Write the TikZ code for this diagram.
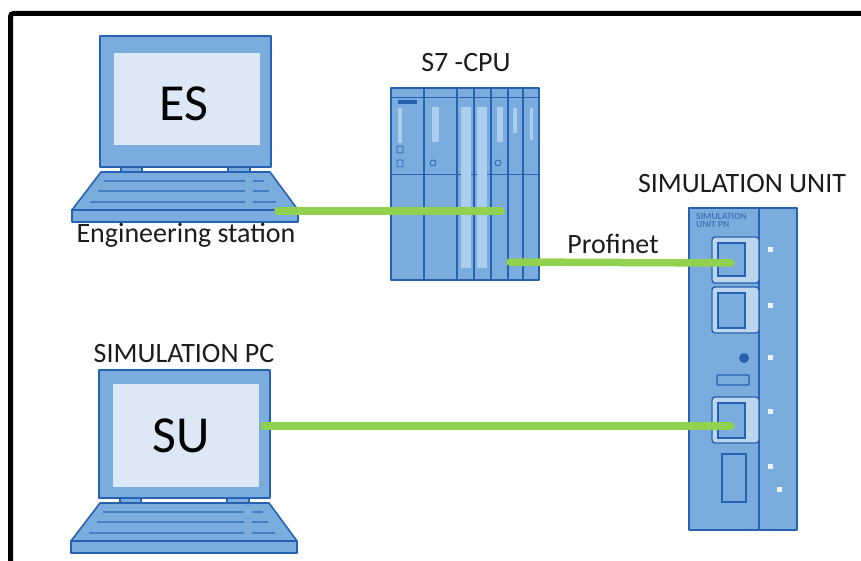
\documentclass[tikz,border=0pt]{standalone}
\usepackage{fontspec}
\setmainfont{Carlito}
\definecolor{devfill}{RGB}{122,173,222}
\definecolor{devline}{RGB}{38,98,178}
\definecolor{devlight}{RGB}{189,214,238}
\definecolor{stripfill}{RGB}{172,206,238}
\definecolor{screenfill}{RGB}{220,232,246}
\definecolor{keyline}{RGB}{70,128,196}
\definecolor{linkgreen}{RGB}{146,208,80}
\definecolor{labeltext}{RGB}{28,28,28}
\definecolor{ledwhite}{RGB}{236,243,250}
\definecolor{unitprint}{RGB}{70,118,186}
\begin{document}
\begin{tikzpicture}[x=1pt,y=-1pt,
  dev/.style={fill=devfill, draw=devline, line width=1.6pt, line join=round},
  thin/.style={draw=devline, line width=1pt},
  keys/.style={draw=keyline, line width=1.2pt},
  link/.style={draw=linkgreen, line width=7.5pt, line cap=round},
  lbl/.style={font=\fontsize{28}{30}\selectfont, text=labeltext, anchor=base, inner sep=0pt},
  big/.style={font=\fontsize{52}{56}\selectfont, text=black, anchor=base, inner sep=0pt},
  led/.style={fill=ledwhite},
  port/.style={fill=devlight, draw=devline, line width=1.4pt, rounded corners=3pt},
  pins/.style={fill=devfill, draw=devline, line width=1.4pt},
  pics/laptop/.style n args={3}{code={
    % lid with screen
    \draw[dev] (0,0) rectangle (171,#1);
    \fill[screenfill] (14,#2) rectangle (160,#1-#3);
    % hinges
    \draw[dev] (21,#1) rectangle (42,#1+5);
    \draw[dev] (128,#1) rectangle (150,#1+5);
    % keyboard deck and front edge
    \draw[dev] (1,#1+5) -- (170,#1+5) -- (198,#1+43) -- (-28,#1+43) -- cycle;
    \draw[dev] (-28,#1+43) rectangle (198,#1+55);
    % key rows
    \draw[keys] (4,#1+14) -- (145,#1+14) (153,#1+14) -- (164,#1+14);
    \draw[keys] (-2,#1+24) -- (145,#1+24) (153,#1+24) -- (169,#1+24);
    \draw[keys] (-10,#1+35) -- (145,#1+35) (153,#1+35) -- (176,#1+35);
  }}]
\useasboundingbox (0,0) rectangle (861,561);

% outer frame
\draw[line width=5pt, rounded corners=3pt] (10.5,561) -- (10.5,13.5) -- (861,13.5);

% engineering station
\pic at (100,36) {laptop={131}{17}{22}};
\node[big] (es) at (184,121) {ES};
\node[lbl] (eslabel) at (186,243) {Engineering station};

% simulation PC
\pic at (99,370) {laptop={128}{14}{11}};
\node[big] (su) at (181,452) {SU};
\node[lbl] (pclabel) at (184,362) {SIMULATION PC};

% S7 CPU rack
\node[lbl] (cpulabel) at (466,72) {S7 -CPU};
\node[dev, rectangle, minimum width=148pt, minimum height=192pt, inner sep=0pt] (cpu) at (465,184) {};
\draw[thin] (391,98) -- (539,98) (391,175) -- (539,175);
\foreach \xd in {424,457,474,491,508,523}
  \draw[devline, line width=1.6pt] (\xd,88) -- (\xd,280);
\fill[stripfill] (461,107) rectangle (471,268);
\fill[stripfill] (477,107) rectangle (487,268);
\fill[devline] (398,100) rectangle (417,104);
\fill[stripfill] (398,108) rectangle (402,143);
\fill[stripfill] (432,107) rectangle (439,142);
\fill[stripfill] (497,107) rectangle (503,142);
\fill[stripfill] (513,108) rectangle (517,133);
\fill[stripfill] (530,108) rectangle (533,140);
\draw[draw=devline, line width=0.8pt, rounded corners=1pt] (397,146) rectangle (403,153);
\draw[draw=devline, line width=0.8pt, rounded corners=1pt] (397,160) rectangle (403,167);
\draw[draw=devline, line width=0.8pt] (433,163) circle[radius=3];
\draw[draw=devline, line width=0.8pt] (498,163) circle[radius=3];

% simulation unit
\node[lbl] (unitlabel) at (742,193) {SIMULATION UNIT};
\node[dev, rectangle, line width=2.2pt, minimum width=108pt, minimum height=322pt, inner sep=0pt] (unit) at (743,369) {};
\draw[devline, line width=1.6pt] (759,208) -- (759,530);
\node[font=\bfseries\fontsize{9.5}{9.5}\selectfont, text=unitprint, anchor=north west, inner sep=0pt, align=left] (unitprint) at (696,213) {SIMULATION\\[-1.5pt]UNIT PN};
\draw[port] (712,237) rectangle (759,283);
\draw[pins] (718,243) rectangle (745,276);
\draw[port] (712,287) rectangle (759,333);
\draw[pins] (718,293) rectangle (745,328);
\fill[devline] (744,358) circle[radius=5];
\draw[pins, rounded corners=1pt] (717,375) rectangle (749,385);
\draw[port] (712,397) rectangle (759,443);
\draw[pins] (718,403) rectangle (745,438);
\draw[pins] (722,454) rectangle (746,502);
\foreach \ly in {249,305,357,411,466}
  \fill[led] (767.5,\ly-2.5) rectangle (772.5,\ly+2.5);
\fill[led] (776.5,486.5) rectangle (781.5,491.5);

% connection points
\coordinate (esjack) at (278,211);
\coordinate (cpuin) at (501,211);
\coordinate (cpuout) at (510,262);
\coordinate (unitin1) at (731,263);
\coordinate (sujack) at (264,426);
\coordinate (unitin2) at (731,426);

% network links
\draw[link] (esjack) -- (cpuin);
\draw[link] (cpuout) -- (unitin1);
\draw[link] (sujack) -- (unitin2);
\node[lbl] (profinet) at (613,254) {Profinet};
\end{tikzpicture}
\end{document}
